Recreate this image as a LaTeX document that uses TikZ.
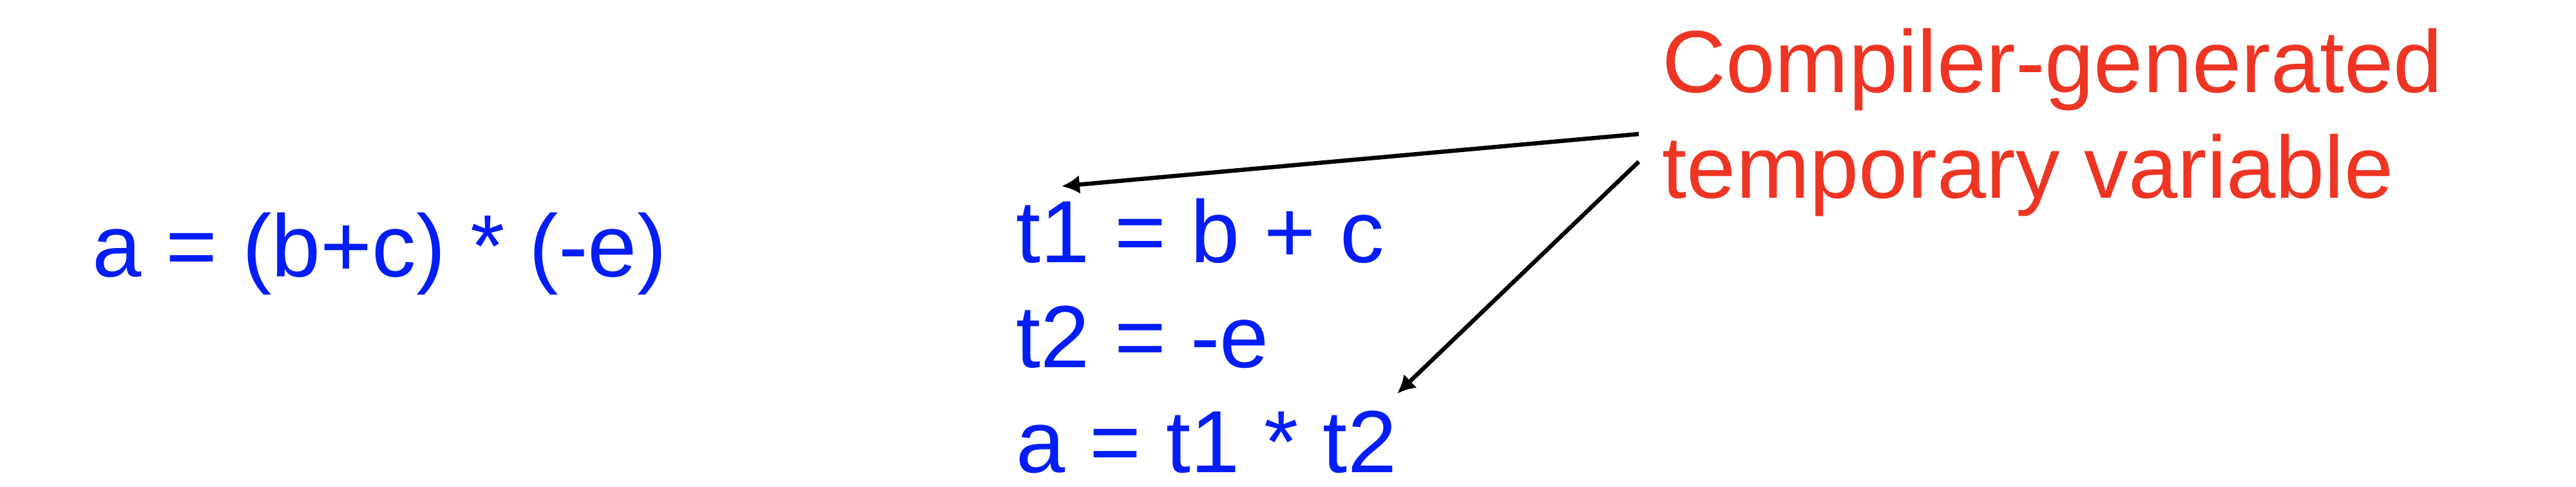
\documentclass[tikz,border=0pt]{standalone}
\usepackage{fontspec}
\setmainfont{Liberation Sans}
\usetikzlibrary{arrows.meta}
\definecolor{codeblue}{RGB}{3,29,247}
\definecolor{notered}{RGB}{238,53,36}
\tikzset{code/.style={text=codeblue, inner sep=0pt, anchor=base west, font=\fontsize{39}{47}\selectfont},
  note/.style={text=notered, inner sep=0pt, anchor=base west, font=\fontsize{39}{47}\selectfont},
  pointer/.style={-{Latex[length=0.28cm,width=0.29cm]}, line width=0.065cm}}
\begin{document}
\begin{tikzpicture}
            \useasboundingbox (0,0) rectangle (39.99,7.55);
            \node[code] (src) at (1.43,3.26) {a = (b+c) * (-e)};
            \node[code] (tone) at (15.77,3.48) {t1 = b + c};
            \node[code] (ttwo) at (15.77,1.85) {t2 = -e};
            \node[code] (res) at (15.77,0.22) {a = t1 * t2};
            \node[note] (comp) at (25.80,6.12) {Compiler-generated};
            \node[note] (temp) at (25.80,4.48) {temporary variable};
            \coordinate (upper) at (25.44,5.47); \coordinate (lower) at (25.44,5.04);
            \coordinate (tonetip) at (16.48,4.66); \coordinate (restip) at (21.69,1.44);
            \draw[pointer] (upper) -- (tonetip);
            \draw[pointer] (lower) -- (restip);
        \end{tikzpicture}
\end{document}
